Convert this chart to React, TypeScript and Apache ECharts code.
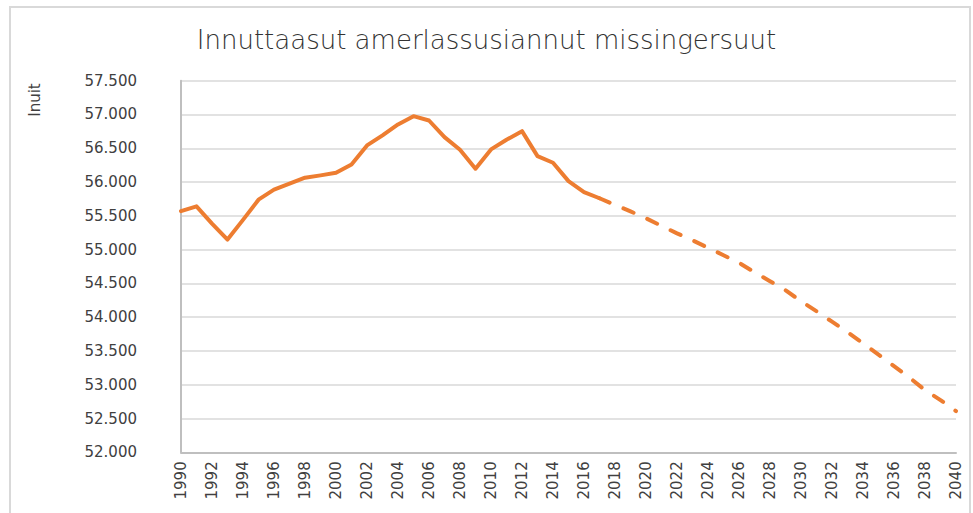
import React, { useEffect, useRef } from "react";
import * as echarts from "echarts";

const years: string[] = [];
for (let y = 1990; y <= 2040; y++) years.push(String(y));

const TITLE = "Innuttaasut amerlassusiannut missingersuut";
const Y_NAME = "Inuit";

// Observed population 1990–2017
const historic: number[] = [
  55570, 55640, 55385, 55148, 55440, 55739, 55887, 55976, 56065, 56099,
  56138, 56261, 56542, 56690, 56852, 56975, 56911, 56665, 56478, 56198,
  56483, 56626, 56753, 56384, 56286, 56014, 55852, 55760,
];

// Projection 2017–2040
const projection: number[] = [
  55760, 55662, 55566, 55463, 55352, 55241, 55138, 55027, 54917, 54805,
  54665, 54532, 54399, 54236, 54088, 53933, 53778, 53615, 53445, 53276,
  53106, 52921, 52773, 52610,
];

const Y_MIN = 52000;
const Y_MAX = 57500;
const Y_STEP = 500;

const FONT = "DejaVu Sans";
const TEXT = "#404040";
const ORANGE = "#ED7D31";

export default function App() {
  const ref = useRef<HTMLDivElement>(null);
  useEffect(() => {
    if (!ref.current) return;
    const chart = echarts.init(ref.current, null, { renderer: "svg" });
    const histData = years.map((_, i) => (i < historic.length ? historic[i] : null));
    const projStart = historic.length - 1;
    const projData = years.map((_, i) =>
      i >= projStart && i - projStart < projection.length ? projection[i - projStart] : null
    );
    chart.setOption({
      animation: false,
      backgroundColor: "#ffffff",
      title: {
        text: TITLE,
        left: "center",
        top: 22,
        textStyle: {
          fontFamily: FONT,
          fontSize: 26,
          fontWeight: "lighter",
          color: "#333333",
        },
      },
      graphic: [
        {
          type: "rect",
          shape: { x: 10, y: 7, width: 960, height: 520 },
          style: { fill: "none", stroke: "#d9d9d9", lineWidth: 2 },
          silent: true,
        },
        {
          type: "text",
          x: 35,
          y: 100,
          rotation: Math.PI / 2,
          style: {
            text: Y_NAME,
            fontFamily: FONT,
            fontSize: 15,
            fill: TEXT,
            align: "center",
            verticalAlign: "middle",
          },
        },
      ],
      grid: { left: 181, right: 17, top: 80.7, bottom: 60.7, containLabel: false },
      xAxis: {
        type: "category",
        data: years,
        boundaryGap: false,
        axisLine: { lineStyle: { color: "#bfbfbf", width: 2 } },
        axisTick: { show: false },
        axisLabel: {
          interval: 1,
          rotate: 90,
          margin: 9,
          fontFamily: FONT,
          fontSize: 15,
          color: TEXT,
        },
        splitLine: { show: false },
      },
      yAxis: {
        type: "value",
        min: Y_MIN,
        max: Y_MAX,
        interval: Y_STEP,
        axisLine: { show: true, lineStyle: { color: "#bfbfbf", width: 2 } },
        axisTick: { show: false },
        axisLabel: {
          margin: 44,
          fontFamily: FONT,
          fontSize: 15,
          color: TEXT,
          formatter: (v: number) => {
            const t = Math.floor(v / 1000);
            const r = String(Math.round(v % 1000)).padStart(3, "0");
            return t + "." + r;
          },
        },
        splitLine: { lineStyle: { color: "#d9d9d9", width: 1.5 } },
      },
      series: [
        {
          type: "line",
          data: histData,
          symbol: "none",
          connectNulls: false,
          lineStyle: { color: ORANGE, width: 4, cap: "round", join: "round" },
        },
        {
          type: "line",
          data: projData,
          symbol: "none",
          connectNulls: false,
          lineStyle: {
            color: ORANGE,
            width: 4,
            type: [11, 15],
            cap: "round",
            join: "round",
          },
        },
      ],
    });
    return () => chart.dispose();
  }, []);
  return (
    <div
      ref={ref}
      style={{ position: "fixed", left: 0, top: 0, width: 973, height: 513 }}
    />
  );
}
